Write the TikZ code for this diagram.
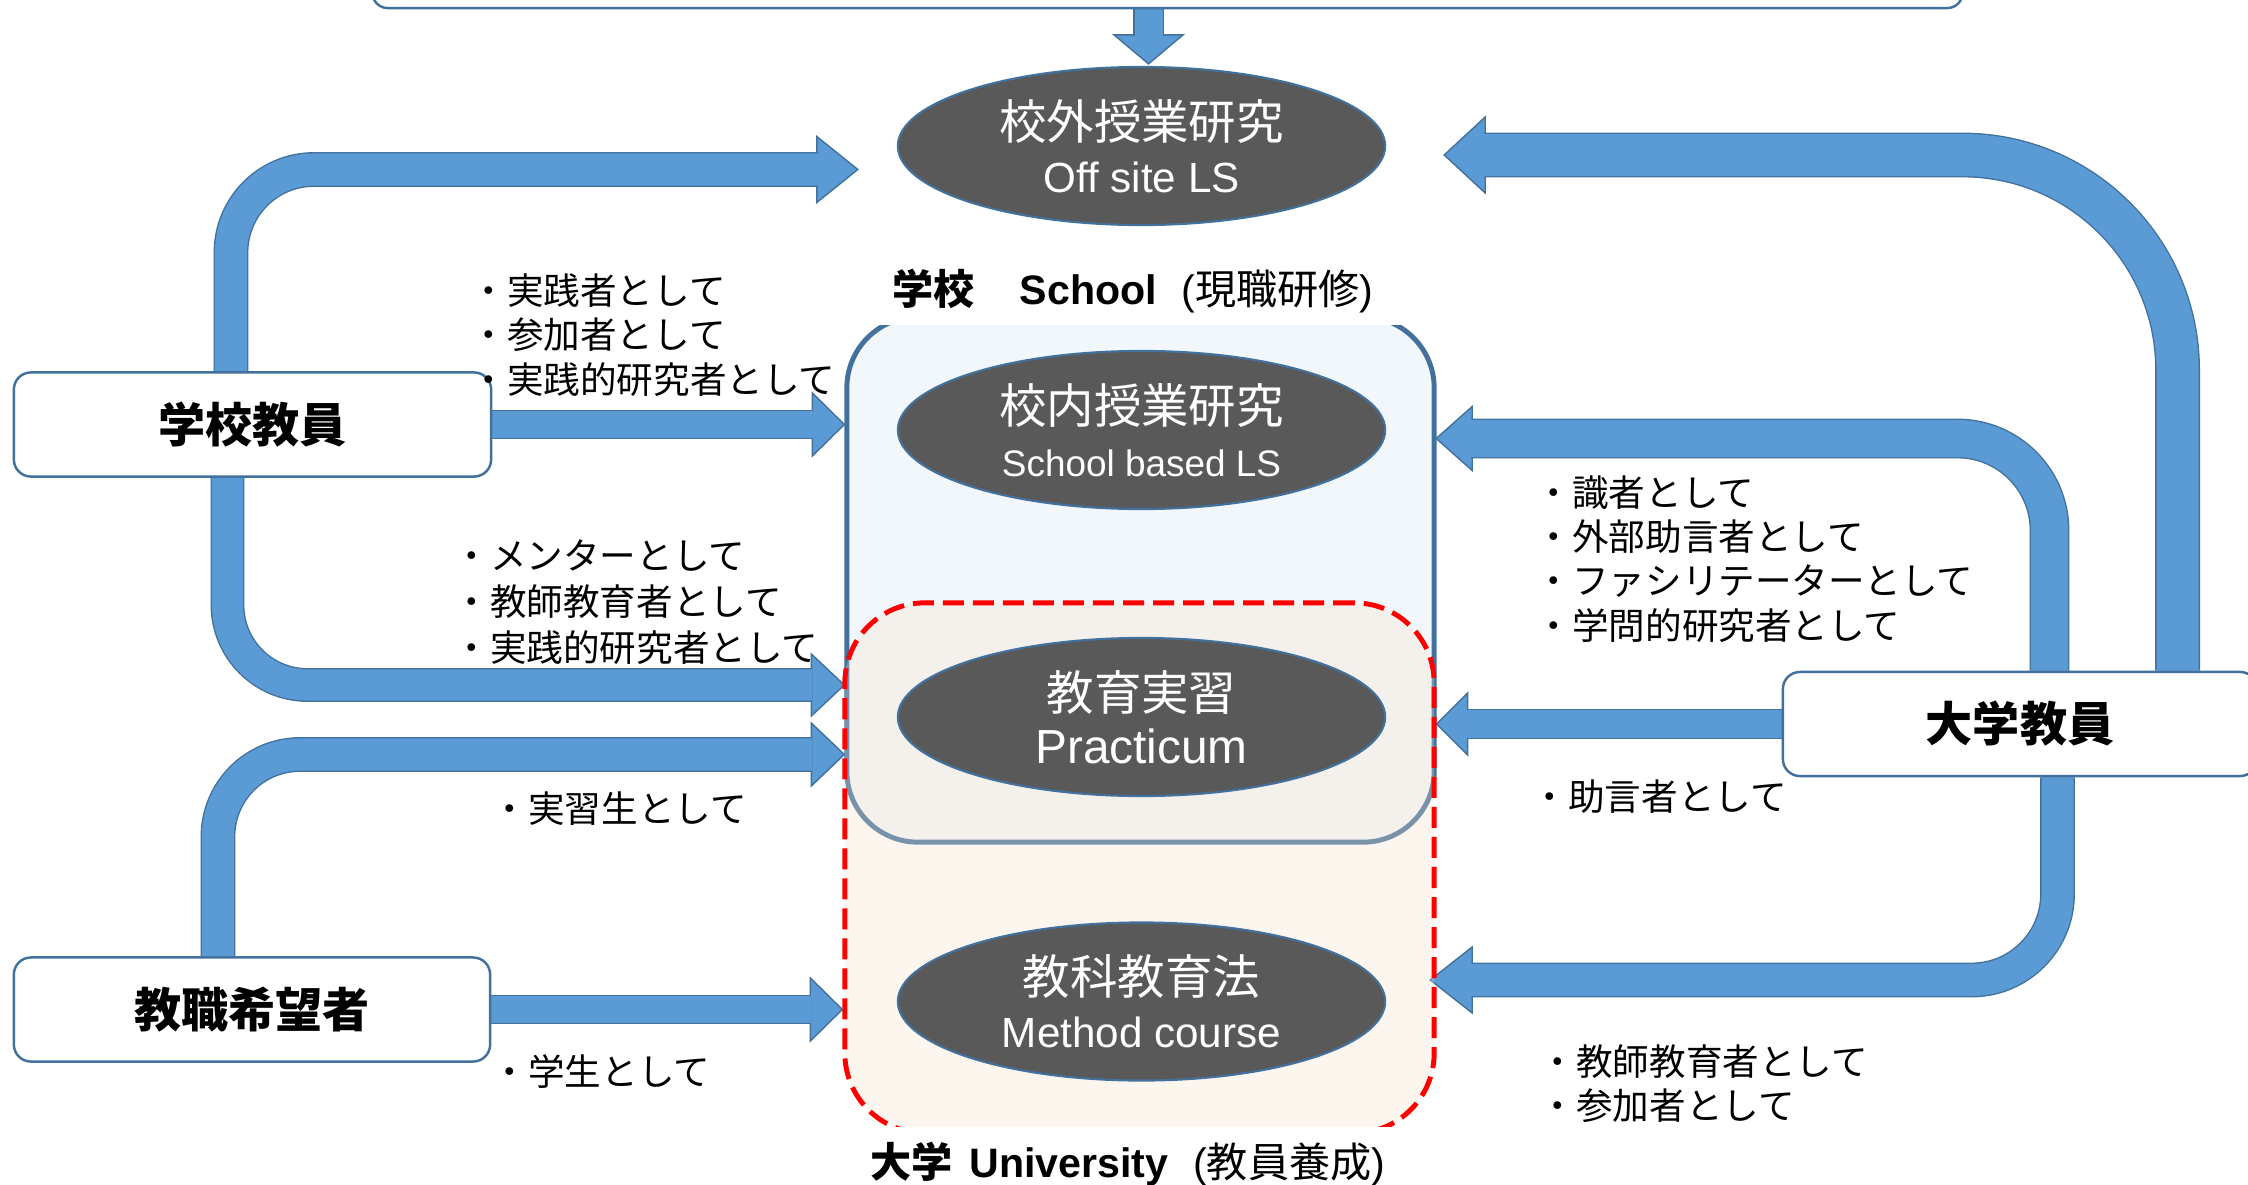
\documentclass[tikz,border=0pt]{standalone}
\usepackage{fontspec}
\setmainfont{Liberation Sans}
\newfontfamily\jp{Noto Sans CJK JP}
\usetikzlibrary{calc, shapes.geometric}
\definecolor{flowblue}{HTML}{5B9BD5}
\definecolor{edgeblue}{HTML}{41719C}
\definecolor{lsgray}{HTML}{595959}
\definecolor{schoolfill}{HTML}{F2F7FC}
\definecolor{univfill}{HTML}{FAE0CA}
\definecolor{dashred}{HTML}{FF0000}
\pgfdeclarelayer{back}
\pgfsetlayers{back,main}
\tikzset{
  actor/.style={draw=edgeblue, line width=0.7pt, fill=white, rounded corners=0.17cm, minimum height=1.04cm, inner sep=0pt, font=\fontsize{13.4}{16}\selectfont\bfseries\jp},
  lesson/.style={ellipse, draw=edgeblue, line width=0.6pt, fill=lsgray, minimum width=4.87cm, minimum height=1.58cm, inner sep=0pt, text=white, align=center, font=\fontsize{13.5}{15}\selectfont},
  role/.style={anchor=west, align=left, inner sep=0pt, font=\fontsize{10.4}{12.6}\selectfont\jp},
  areatitle/.style={fill=white, inner sep=0pt, font=\fontsize{11.7}{14}\selectfont},
  flowshaft/.style={draw=edgeblue, line width=0.4pt, double=flowblue},
  flowhead/.style={fill=flowblue, draw=edgeblue, line width=0.4pt},
}
\begin{document}
\begin{tikzpicture}[x=0.01cm, y=-0.01cm]
  \useasboundingbox (0,0) rectangle (2248,1185);
  \clip (0,0) rectangle (2248,1185);

  % areas
  \node[draw=edgeblue, line width=0.7pt, fill=white, rounded corners=0.15cm, minimum width=15.89cm, minimum height=0.8cm] (topbox) at (1167.5,-32) {};
  \node[draw=edgeblue, line width=1.4pt, fill=schoolfill, rounded corners=0.71cm, minimum width=5.87cm, minimum height=5.25cm] (school) at (1140.5,579.5) {};
  \node[draw=dashred, line width=1.4pt, dash pattern=on 0.21cm off 0.09cm, fill=univfill, fill opacity=0.3, rounded corners=0.8cm, minimum width=5.89cm, minimum height=5.3cm] (univ) at (1139.5,868) {};

  % lesson studies
  \node[lesson] (offsite) at (1141.5,146) {{\jp 校外授業研究}\\{\fontsize{12}{14}\selectfont Off site LS}};
  \node[lesson] (lsin) at (1141.5,430) {{\jp 校内授業研究}\\{\fontsize{10.5}{12}\selectfont School based LS}};
  \node[lesson] (practicum) at (1141.5,717) {{\jp 教育実習}\\{\fontsize{13.6}{15}\selectfont Practicum}};
  \node[lesson] (method) at (1141.5,1001.5) {{\jp 教科教育法}\\{\fontsize{12}{14}\selectfont Method course}};

  % people
  \node[actor, minimum width=4.77cm] (teacher) at (252.5,424.5) {学校教員};
  \node[actor, minimum width=4.76cm] (aspirant) at (252,1009.5) {教職希望者};
  \node[actor, minimum width=4.74cm] (faculty) at (2020,724) {大学教員};

  % area titles
  \node[areatitle, minimum width=5.6cm, minimum height=0.68cm] (schooltitle) at (1133,291) {{\bfseries\jp 学校}\hspace{1.1em}{\bfseries School}\hspace{0.6em}({\jp 現職研修})};
  \node[areatitle, minimum width=5.7cm, minimum height=0.74cm] (univtitle) at (1128,1164) {{\bfseries\jp 大学}\hspace{0.4em}{\bfseries University}\hspace{0.6em}({\jp 教員養成})};

  % roles
  \node[role] (practitioner) at (470,335) {・実践者として\\・参加者として\\・実践的研究者として};
  \node[role, font=\fontsize{10.4}{13.1}\selectfont\jp] (mentor) at (453,602) {・メンターとして\\・教師教育者として\\・実践的研究者として};
  \node[role] (trainee) at (491,809) {・実習生として};
  \node[role] (student) at (491,1072) {・学生として};
  \node[role] (expert) at (1535,559) {・識者として\\・外部助言者として\\・ファシリテーターとして\\・学問的研究者として};
  \node[role] (adviser) at (1531,797) {・助言者として};
  \node[role] (educator) at (1539,1083.5) {・教師教育者として\\・参加者として};

  % flows
  \begin{pgfonlayer}{back}
    \coordinate (tipK) at ($(offsite.north)+(7,-2)$);
    \filldraw[flowhead] (tipK) -- ++(-34.5,-29) -- ++(69,0) -- cycle;
    \draw[flowshaft, double distance=0.28cm] (topbox.south -| tipK) -- ($(tipK)+(0,-28)$);

    \coordinate (tipA) at ($(offsite.west)+(-39,23.5)$);
    \filldraw[flowhead] (tipA) -- ++(-41,-33) -- ++(0,66) -- cycle;
    \draw[flowshaft, double distance=0.32cm, rounded corners=0.83cm] ([xshift=-0.215cm]teacher.north) |- ($(tipA)+(-40,0)$);

    \coordinate (tipB) at ($(offsite.east)+(58,9)$);
    \filldraw[flowhead] (tipB) -- ++(41,-38) -- ++(0,76) -- cycle;
    \draw[flowshaft, double distance=0.42cm, rounded corners=2.15cm] ([xshift=1.575cm]faculty.north) |- ($(tipB)+(40,0)$);

    \coordinate (tipC) at ($(lsin.east)+(50,8.5)$);
    \filldraw[flowhead] (tipC) -- ++(36,-32) -- ++(0,64) -- cycle;
    \draw[flowshaft, double distance=0.37cm, rounded corners=0.92cm] ([xshift=0.295cm]faculty.north) |- ($(tipC)+(35,0)$);

    \coordinate (tipD) at (faculty.west -| school.east);
    \filldraw[flowhead] (tipD) -- ++(31,-31) -- ++(0,62) -- cycle;
    \draw[flowshaft, double distance=0.28cm] (faculty.west) -- ($(tipD)+(30,0)$);

    \coordinate (tipE) at ($(method.east)+(44,-21.5)$);
    \filldraw[flowhead] (tipE) -- ++(42,-33) -- ++(0,66) -- cycle;
    \draw[flowshaft, double distance=0.32cm, rounded corners=0.86cm] ([xshift=0.375cm]faculty.south) |- ($(tipE)+(41,0)$);

    \coordinate (tipF) at ($(practicum.west)+(-52.5,-32)$);
    \filldraw[flowhead] (tipF) -- ++(-33,-31) -- ++(0,62) -- cycle;
    \draw[flowshaft, double distance=0.31cm, rounded corners=0.8cm] ([xshift=-0.25cm]teacher.south) |- ($(tipF)+(-32,0)$);

    \coordinate (tipG) at ($(practicum.west)+(-52.5,37.5)$);
    \filldraw[flowhead] (tipG) -- ++(-33,-31.5) -- ++(0,63) -- cycle;
    \draw[flowshaft, double distance=0.32cm, rounded corners=0.82cm] ([xshift=-0.34cm]aspirant.north) |- ($(tipG)+(-32,0)$);

    \coordinate (tipH) at (teacher.east -| school.west);
    \filldraw[flowhead] (tipH) -- ++(-32,-31.5) -- ++(0,63) -- cycle;
    \draw[flowshaft, double distance=0.27cm] (teacher.east) -- ($(tipH)+(-31,0)$);

    \coordinate (tipI) at (aspirant.east -| univ.west);
    \filldraw[flowhead] (tipI) -- ++(-32,-31.5) -- ++(0,63) -- cycle;
    \draw[flowshaft, double distance=0.27cm] (aspirant.east) -- ($(tipI)+(-31,0)$);
  \end{pgfonlayer}
\end{tikzpicture}
\end{document}
